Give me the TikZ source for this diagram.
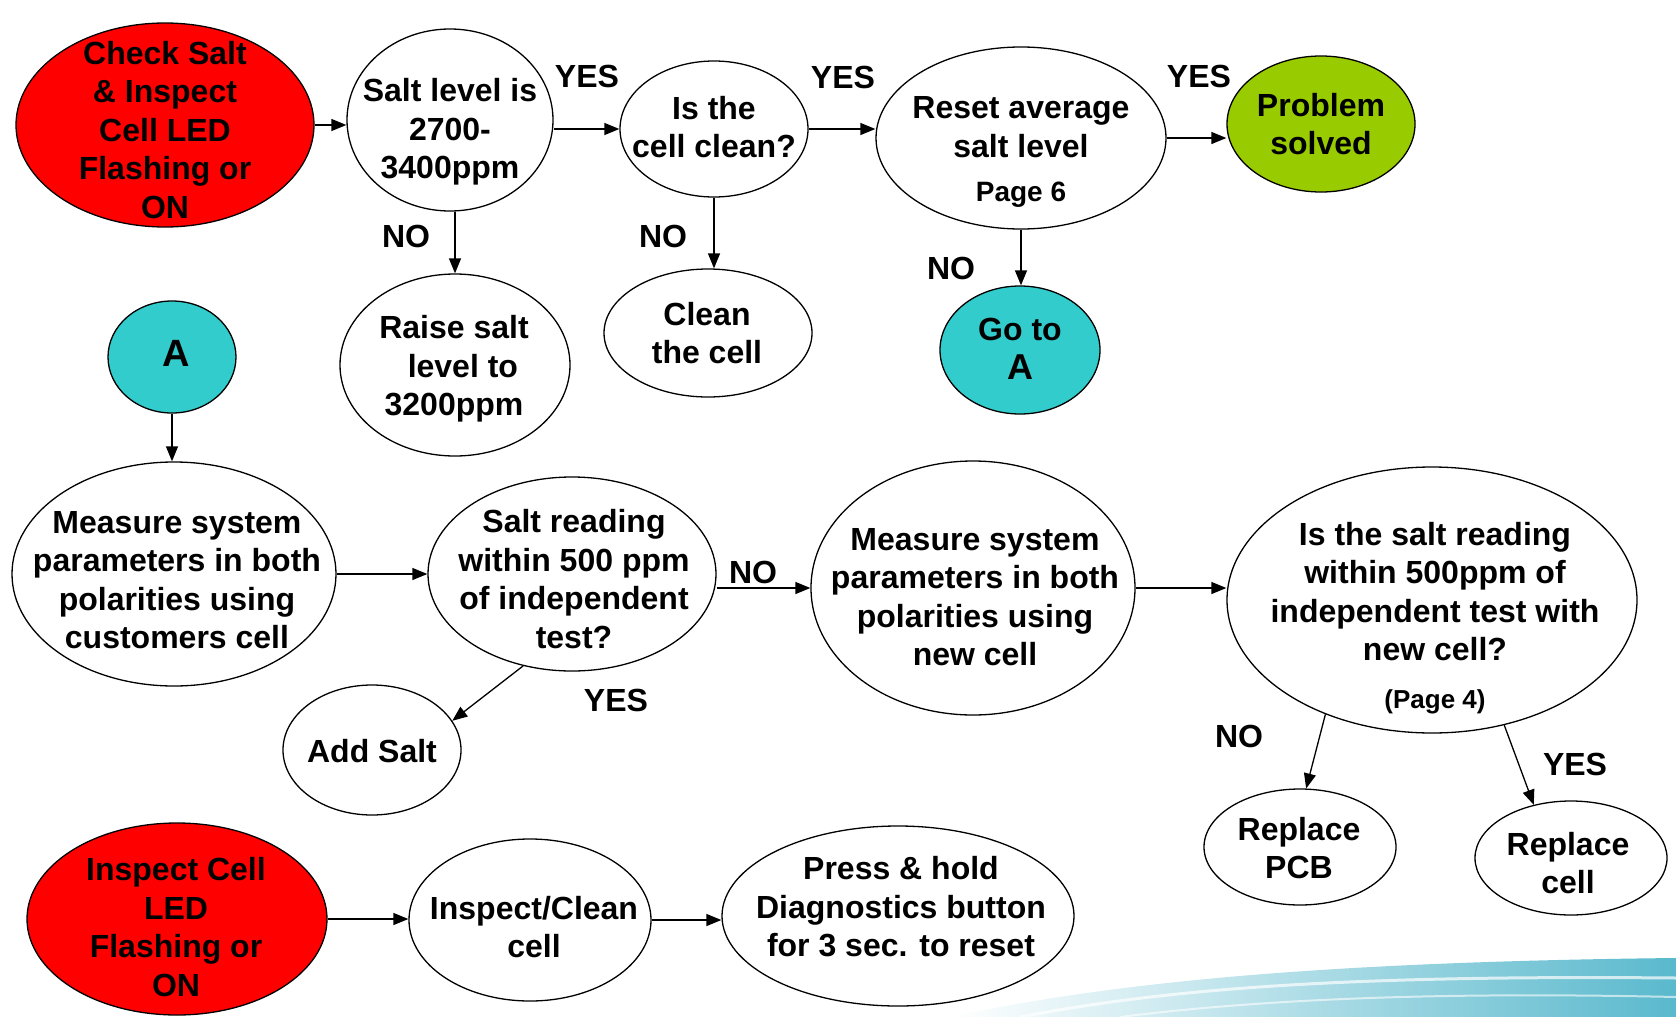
\documentclass[tikz,border=0pt]{standalone}
\usepackage{fontspec}
\setmainfont{Liberation Sans}
\usetikzlibrary{shapes.geometric,arrows.meta,calc}
\definecolor{redfill}{HTML}{FF0000}
\definecolor{greenfill}{HTML}{99CC00}
\definecolor{tealfill}{HTML}{33CCCC}
\definecolor{swoosh}{RGB}{90,185,205}
\begin{document}
\begin{tikzpicture}[x=1pt,y=-1pt,
  el/.style={ellipse,draw,line width=1.3pt,inner sep=0pt},
  txt/.style={align=center,inner sep=0pt,font=\fontsize{32}{38.5}\selectfont\bfseries},
  arr/.style={-{Triangle[length=15pt,width=12pt]},line width=1.3pt},
  lbl/.style={font=\fontsize{32}{36}\selectfont\bfseries,inner sep=0pt}]
\useasboundingbox (0,0) rectangle (1676,1017);
% swoosh decoration
\shade[left color=white,right color=swoosh] (950,1017) .. controls (1100,985) and (1300,962) .. (1676,958) -- (1676,1017) -- cycle;
\draw[white,line width=3pt,opacity=0.7] (1020,1017) .. controls (1170,988) and (1350,975) .. (1676,978);
\draw[white,line width=2pt,opacity=0.6] (1120,1017) .. controls (1270,998) and (1450,992) .. (1676,997);

% top row
\node[el,fill=redfill,minimum width=298pt,minimum height=204pt] (chk) at (165,125) {};
\node[txt] (chkt) at (165,130) {Check Salt\\\& Inspect\\Cell LED\\Flashing or\\ON};
\node[el,minimum width=206pt,minimum height=182pt] (lvl) at (450,120) {};
\node[txt] (lvlt) at (450,132) {Salt level is\\2700-\\3400ppm};
\node[el,minimum width=188pt,minimum height=136pt] (cc) at (714,129) {};
\node[txt] (cct) at (714,127) {Is the\\cell clean?};
\node[el,minimum width=290pt,minimum height=182pt] (rs) at (1021,138) {};
\node[txt] (rst) at (1021,152) {Reset average\\salt level\\[6pt]{\fontsize{28}{32}\selectfont Page 6}};
\node[el,fill=greenfill,minimum width=188pt,minimum height=136pt] (pb) at (1321,124) {};
\node[txt] (pbt) at (1321,124) {Problem\\solved};

\node[el,minimum width=230pt,minimum height=182pt] (raise) at (455,365) {};
\node[txt] (raiset) at (454,369) {Raise salt\\\ \ level to\\3200ppm};
\node[el,minimum width=208pt,minimum height=128pt] (cln) at (708,333) {};
\node[txt] (clnt) at (707,333) {Clean\\the cell};
\node[el,fill=tealfill,minimum width=160pt,minimum height=128pt] (goA) at (1020,350) {};
\node[txt] (goAt) at (1020,349) {Go to\\{\fontsize{36}{40}\selectfont A}};
\node[el,fill=tealfill,minimum width=128pt,minimum height=112pt] (A) at (172,357) {};
\node[txt,font=\fontsize{38}{40}\selectfont\bfseries] (At) at (176,353) {A};

% middle row
\node[el,minimum width=324pt,minimum height=224pt] (ms) at (174,574) {};
\node[txt] (mst) at (177,580) {Measure system\\parameters in both\\polarities using\\customers cell};
\node[el,minimum width=288pt,minimum height=194pt] (sr) at (572,574) {};
\node[txt] (srt) at (574,579) {Salt reading\\within 500 ppm\\of independent\\test?};
\node[el,minimum width=324pt,minimum height=254pt] (mn) at (973,588) {};
\node[txt] (mnt) at (975,597) {Measure system\\parameters in both\\polarities using\\new cell};
\node[el,minimum width=410pt,minimum height=266pt] (isr) at (1432,600) {};
\node[txt] (isrt) at (1435,618) {Is the salt reading\\within 500ppm of\\independent test with\\new cell?\\[9pt]{\fontsize{26}{30}\selectfont (Page 4)}};
\node[el,minimum width=178pt,minimum height=130pt] (add) at (372,750) {};
\node[txt] (addt) at (372,751) {Add Salt};
\node[el,minimum width=192pt,minimum height=116pt] (pcb) at (1300,847) {};
\node[txt] (pcbt) at (1299,848) {Replace\\PCB};
\node[el,minimum width=192pt,minimum height=114pt] (rcell) at (1571,858) {};
\node[txt] (rcellt) at (1568,863) {Replace\\cell};

% bottom row
\node[el,fill=redfill,minimum width=300pt,minimum height=192pt] (ic) at (177,919) {};
\node[txt] (ict) at (176,927) {Inspect Cell\\LED\\Flashing or\\ON};
\node[el,minimum width=242pt,minimum height=162pt] (icl) at (530,920) {};
\node[txt] (iclt) at (534,927) {Inspect/Clean\\cell};
\node[el,minimum width=352pt,minimum height=180pt] (ph) at (898,916) {};
\node[txt] (pht) at (901,907) {Press \& hold\\Diagnostics button\\for 3 sec. to reset};

% connectors
\draw[arr] (chk.east) -- (chk.east -| lvl.west);
\draw[arr] (lvl.east |- cc.west) -- (cc.west);
\draw[arr] (cc.east) -- (cc.east -| rs.west);
\draw[arr] (rs.east) -- (rs.east -| pb.west);
\draw[arr] (raise.north |- lvl.south) -- (raise.north);
\draw[arr] (cc.south) -- (cc.south |- cln.north);
\draw[arr] (rs.south) -- (rs.south |- goA.north);
\draw[arr] (A.south) -- (A.south |- ms.north);
\draw[arr] (ms.east) -- (ms.east -| sr.west);
\draw[arr] (sr.east |- mn.west) -- (mn.west);
\draw[arr] (mn.east) -- (mn.east -| isr.west);
\draw[arr] (sr.242) -- (add.20);
\draw[arr] (isr.227) -- (pcb.84);
\draw[arr] (isr.300) -- (rcell.125);
\draw[arr] (ic.east) -- (ic.east -| icl.west);
\draw[arr] (icl.east) -- (icl.east -| ph.west);

% labels
\node[lbl] (y1) at (587,76) {YES};
\node[lbl] (y2) at (843,77) {YES};
\node[lbl] (y3) at (1199,76) {YES};
\node[lbl] (n1) at (406,236) {NO};
\node[lbl] (n2) at (663,236) {NO};
\node[lbl] (n3) at (951,268) {NO};
\node[lbl] (n4) at (753,572) {NO};
\node[lbl] (y4) at (616,700) {YES};
\node[lbl] (n5) at (1239,736) {NO};
\node[lbl] (y5) at (1575,764) {YES};
\end{tikzpicture}
\end{document}
